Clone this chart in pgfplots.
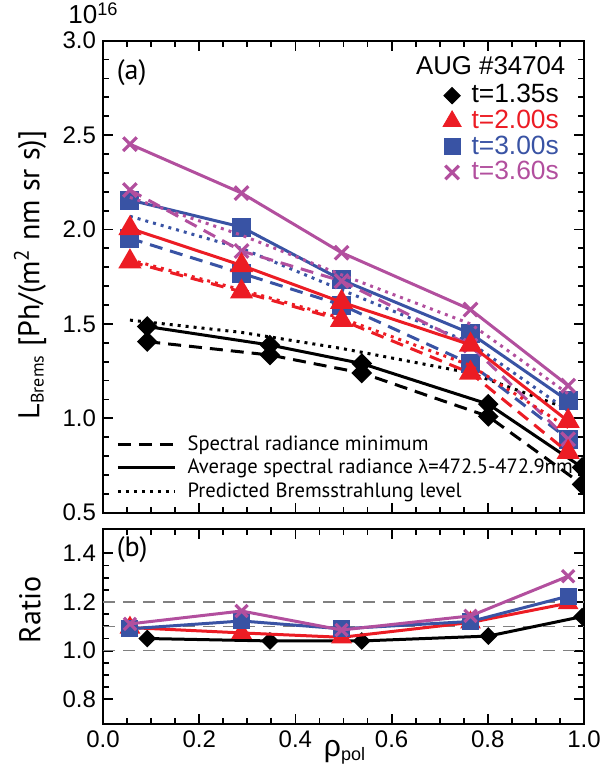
\documentclass[border=0pt]{standalone}
\usepackage{pgfplots}
\pgfplotsset{compat=1.18}
\usepackage{fontspec}
\setmainfont{Liberation Sans}
\newfontfamily\myr{PT Sans}
\definecolor{cred}{HTML}{EC1C24}
\definecolor{cblue}{HTML}{3953A4}
\definecolor{cpurp}{HTML}{B24F9E}
\tikzset{dsh/.style={dash pattern=on 6.5pt off 4pt},dtt/.style={dash pattern=on 1.5pt off 2.5pt}}
\pgfplotsset{
  myax/.style={scale only axis, width=240.5pt, xmin=0, xmax=1,
    tick align=inside, tick pos=both,
    major tick length=5pt, minor tick length=3pt,
    every tick/.style={black, line width=0.9pt},
    axis line style={line width=1pt},
    xtick={0,0.2,0.4,0.6,0.8,1.0}, minor x tick num=3,
    /pgf/number format/.cd, fixed, fixed zerofill, precision=1, assume math mode=true,
    /pgfplots/.cd,
    tick label style={font=\fontsize{12}{12}\selectfont},
    clip marker paths=true},
  dia/.style={mark=square*, mark size=2.9pt, mark options={rotate=45, solid}},
  tri/.style={mark=triangle*, mark size=5.2pt, mark options={solid}},
  sqr/.style={mark=square*, mark size=4.0pt, mark options={solid}},
  crs/.style={mark=x, mark size=4.8pt, mark options={solid, line width=1.6pt}},
}
\begin{document}
\begin{tikzpicture}[x=1pt,y=1pt]
\useasboundingbox (0,0) rectangle (303,382);
% ---------------- top panel
\begin{axis}[myax, at={(51.5pt,125.65pt)}, anchor=south west, height=236pt,
  ymin=0.5, ymax=3.0, ytick={0.5,1.0,1.5,2.0,2.5,3.0}, minor y tick num=4,
  xticklabels={},
  legend style={draw=none, fill=none, at={(axis cs:0.966,2.80)}, anchor=north east,
    font=\fontsize{13.2}{14}\selectfont, row sep=0pt,
    /tikz/every odd column/.append style={column sep=4pt},
    nodes={inner sep=1.2pt, text height=8.8pt, text depth=1.6pt}},
  legend cell align=left]
% black t=1.35s
\addplot[forget plot, black, line width=1.5pt, dtt] coordinates {(0.056,1.52) (0.288,1.455) (0.496,1.37) (0.764,1.24) (0.967,1.05)};
\addplot[forget plot, black, line width=1.5pt, dsh, dia] coordinates {(0.092,1.406) (0.347,1.335) (0.538,1.24) (0.801,1.01) (0.996,0.65)};
\addplot[forget plot, black, line width=1.5pt, dia] coordinates {(0.092,1.486) (0.347,1.388) (0.538,1.29) (0.801,1.075) (0.996,0.74)};
% blue t=3.00s
\addplot[forget plot, cblue, line width=1.5pt, dtt] coordinates {(0.056,2.07) (0.288,1.90) (0.496,1.68) (0.764,1.40) (0.967,1.04)};
\addplot[forget plot, cblue, line width=1.5pt, dsh, sqr] coordinates {(0.056,1.953) (0.288,1.768) (0.496,1.60) (0.764,1.289) (0.967,0.89)};
\addplot[forget plot, cblue, line width=1.5pt, sqr] coordinates {(0.056,2.156) (0.288,2.013) (0.496,1.733) (0.764,1.45) (0.967,1.092)};
% purple t=3.60s
\addplot[forget plot, cpurp, line width=1.5pt, dtt] coordinates {(0.056,2.17) (0.288,1.97) (0.496,1.76) (0.764,1.50) (0.967,1.13)};
\addplot[forget plot, cpurp, line width=1.5pt, dsh, crs] coordinates {(0.056,2.209) (0.288,1.886) (0.496,1.727) (0.764,1.385) (0.967,0.889)};
\addplot[forget plot, cpurp, line width=1.5pt, crs] coordinates {(0.056,2.452) (0.288,2.193) (0.496,1.877) (0.764,1.576) (0.967,1.173)};
% red t=2.00s
\addplot[forget plot, cred, line width=1.5pt, dtt] coordinates {(0.056,1.84) (0.288,1.68) (0.496,1.53) (0.764,1.28) (0.967,0.95)};
\addplot[forget plot, cred, line width=1.5pt, dsh, tri] coordinates {(0.056,1.83) (0.288,1.67) (0.496,1.52) (0.764,1.24) (0.967,0.82)};
\addplot[forget plot, cred, line width=1.5pt, tri] coordinates {(0.056,2.006) (0.288,1.81) (0.496,1.615) (0.764,1.389) (0.967,0.985)};
% legend (markers)
\addlegendimage{only marks, black, dia}
\addlegendentry{t=1.35s}
\addlegendimage{only marks, cred, tri}
\addlegendentry{\textcolor{cred}{t=2.00s}}
\addlegendimage{only marks, cblue, sqr}
\addlegendentry{\textcolor{cblue}{t=3.00s}}
\addlegendimage{only marks, cpurp, crs}
\addlegendentry{\textcolor{cpurp}{t=3.60s}}
\node[anchor=east, font=\fontsize{12.9}{13}\selectfont, inner sep=0pt] at (axis cs:0.962,2.87) {AUG \#34704};
\node[anchor=west, font=\myr\fontsize{14}{14}\selectfont, inner sep=0pt] at (axis cs:0.028,2.829) {(a)};
% line-style legend
\draw[black, line width=1.5pt, dsh] (axis cs:0.031,0.859) -- (axis cs:0.15,0.859);
\draw[black, line width=1.5pt] (axis cs:0.031,0.737) -- (axis cs:0.15,0.737);
\draw[black, line width=1.5pt, dtt] (axis cs:0.031,0.61) -- (axis cs:0.15,0.61);
\node[anchor=west, font=\myr\fontsize{10.3}{10}\selectfont, inner sep=0pt] at (axis cs:0.175,0.859) {Spectral radiance minimum};
\node[anchor=west, font=\myr\fontsize{10.3}{10}\selectfont, inner sep=0pt] at (axis cs:0.175,0.737) {Average spectral radiance {\rmfamily\fontsize{9.8}{10}\selectfont λ}=472.5-472.9nm};
\node[anchor=west, font=\myr\fontsize{10.3}{10}\selectfont, inner sep=0pt] at (axis cs:0.175,0.61) {Predicted Bremsstrahlung level};
\end{axis}
% ---------------- bottom panel
\begin{axis}[myax, at={(51.5pt,20.15pt)}, anchor=south west, height=97.35pt,
  ymin=0.7, ymax=1.5, ytick={0.8,1.0,1.2,1.4}, minor y tick num=3]
\addplot[gray, line width=0.8pt, dash pattern=on 6pt off 4pt] coordinates {(0,1.0) (1,1.0)};
\addplot[gray, line width=0.8pt, dash pattern=on 6pt off 4pt] coordinates {(0,1.1) (1,1.1)};
\addplot[gray, line width=0.8pt, dash pattern=on 6pt off 4pt] coordinates {(0,1.2) (1,1.2)};
\addplot[black, line width=1.5pt, dia, mark size=2.4pt] coordinates {(0.092,1.05) (0.347,1.04) (0.538,1.04) (0.801,1.06) (0.996,1.14)};
\addplot[cred, line width=1.5pt, tri, mark size=4.5pt] coordinates {(0.056,1.095) (0.288,1.073) (0.496,1.055) (0.764,1.116) (0.967,1.195)};
\addplot[cblue, line width=1.5pt, sqr, mark size=3.5pt] coordinates {(0.056,1.09) (0.288,1.122) (0.496,1.09) (0.764,1.12) (0.967,1.224)};
\addplot[cpurp, line width=1.5pt, crs, mark size=4.3pt] coordinates {(0.056,1.11) (0.288,1.163) (0.496,1.085) (0.764,1.143) (0.967,1.306)};
\node[anchor=west, font=\myr\fontsize{14}{14}\selectfont, inner sep=0pt] at (axis cs:0.028,1.414) {(b)};
\end{axis}
% ---------------- outer labels
\node[rotate=90, font=\myr\fontsize{15}{15}\selectfont] at (15,244.5) {L\textsubscript{\fontsize{9}{9}\selectfont Brems} [Ph/(m\textsuperscript{2} nm sr s)]};
\node[rotate=90, font=\myr\fontsize{15}{15}\selectfont] at (15,77) {Ratio};
\node[font=\fontsize{15}{15}\selectfont] at (172.5,6) {ρ\textsubscript{\fontsize{9}{9}\selectfont pol}};
\node[anchor=base west, font=\fontsize{13}{13}\selectfont, inner sep=0pt] at (34,370) {10\textsuperscript{16}};
\end{tikzpicture}
\end{document}
